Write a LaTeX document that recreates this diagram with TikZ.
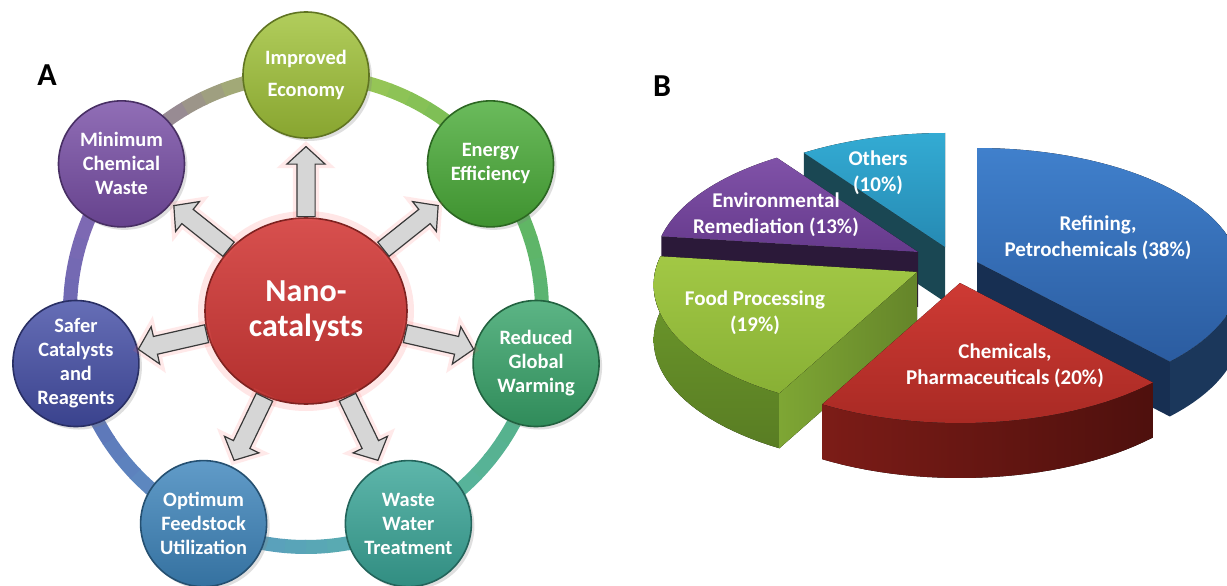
\documentclass[tikz,border=0pt]{standalone}
\usepackage{fontspec}
\setmainfont{Carlito}
\usetikzlibrary{shapes,shapes.arrows,shadows,calc}

\definecolor{col0}{HTML}{A0C238}
\definecolor{col1}{HTML}{4AAC38}
\definecolor{col2}{HTML}{38A46A}
\definecolor{col3}{HTML}{3AA698}
\definecolor{col4}{HTML}{3E85BC}
\definecolor{col5}{HTML}{444EA6}
\definecolor{col6}{HTML}{784EA6}
\definecolor{nanored}{HTML}{D23836}
\definecolor{othtop}{HTML}{33ABD3}
\definecolor{othlow}{HTML}{268AB3}
\definecolor{othcut}{HTML}{1A4753}
\definecolor{envtop}{HTML}{8052A8}
\definecolor{envlow}{HTML}{663A8C}
\definecolor{envcut}{HTML}{2B1939}
\definecolor{reftop}{HTML}{4080CC}
\definecolor{reflow}{HTML}{2B5CA0}
\definecolor{refside}{HTML}{1B375B}
\definecolor{refcut}{HTML}{172F52}
\definecolor{foodtop}{HTML}{A2C845}
\definecolor{foodlow}{HTML}{88B035}
\definecolor{foodside}{HTML}{6F9C2C}
\definecolor{foodcut}{HTML}{7EA634}
\definecolor{chemtop}{HTML}{CE3A34}
\definecolor{chemlow}{HTML}{A92A24}
\definecolor{chemside}{HTML}{7C1C17}
\definecolor{chemdark}{HTML}{4E100D}

\pgfmathdeclarefunction{rx}{1}{\pgfmathparse{(262-27*sin(#1))*cos(#1)}}
\pgfmathdeclarefunction{ry}{1}{\pgfmathparse{(127-13*sin(#1))*sin(#1)}}

\begin{document}
\begin{tikzpicture}[x=0.5pt,y=0.5pt,>=stealth]
        \tikzset{goal/.style={circle,minimum size=63pt,inner sep=1pt,align=center,text=white,
            font=\bfseries\fontsize{10.2}{12}\selectfont,draw=#1!60!black,line width=0.8pt,
            top color=#1!82!white,bottom color=#1!85!black,
            drop shadow={opacity=0.25,shadow xshift=1.5pt,shadow yshift=-1.5pt}}}
        \tikzstyle{push}=[single arrow,draw=gray!45!black,fill=gray!32,line width=0.6pt,
            minimum height=35pt,inner sep=4.25pt,single arrow head extend=5pt,single arrow tip angle=95,
            preaction={draw=red!60,line width=4pt,opacity=0.14}]
        \tikzstyle{pielabel}=[text=white,align=center,font=\bfseries\fontsize{10.5}{13}\selectfont]
        \tikzstyle{panel}=[font=\bfseries\fontsize{16}{16}\selectfont]
        \useasboundingbox (0,0) rectangle (1227,585);
        \fill[white] (0,0) rectangle (1227,585);

        % A: ring of goals
        \node[panel] (pa) at (47,510) {A};
        \coordinate (hub) at (306,274);
        \foreach \i in {0,...,6}{
            \pgfmathtruncatemacro\j{mod(\i+1,7)}
            \foreach \k in {0,...,9}{
                \pgfmathsetmacro\a{90-\i*360/7-\k*360/70}
                \pgfmathtruncatemacro\p{95-\k*10}
                \draw[line width=7pt,color=col\i!\p!col\j!85!white] ($(hub)+(\a:236)$) arc[start angle=\a,delta angle=-5.4,radius=236];
            }
        }
        \foreach \i/\txt in {0/{Improved\\[4pt]Economy},1/{Energy\\Efficiency},2/{Reduced\\Global\\Warming},
            3/{Waste\\Water\\Treatment},4/{Optimum\\Feedstock\\Utilization},5/{Safer\\Catalysts\\and\\Reagents},
            6/{Minimum\\Chemical\\Waste}}
            \node[goal=col\i] (g\i) at ($(hub)+({90-\i*360/7}:236)$) {\txt};
        \node[ellipse,minimum width=101pt,minimum height=93pt,align=center,text=white,
            font=\bfseries\fontsize{16}{17.5}\selectfont,draw=nanored!60!black,line width=0.8pt,
            top color=nanored!88!white,bottom color=nanored!85!black,
            preaction={draw=red!60,line width=7pt,opacity=0.16}] (nano) at (hub) {Nano-\\catalysts};
        \foreach \i in {0,...,6}
            \path (nano) -- node[push,sloped,allow upside down,pos=0,anchor=tail]{} (g\i);

        % B: exploded pie
        \node[panel] (pb) at (662,499) {B};
        % others
        \fill[othcut] (945,338) -- ({945+rx(126)},{338+ry(126)}) -- ++(0,-55) -- (945,283) -- cycle;
        \fill[top color=othtop,bottom color=othlow] (945,338)
            -- plot[domain=90:126,samples=30,variable=\t] ({945+rx(\t)},{338+ry(\t)}) -- cycle;
        % environmental remediation
        \fill[envcut] (918,333) -- ({918+rx(172.8)},{333+ry(172.8)}) -- ++(0,-55) -- (918,278) -- cycle;
        \fill[top color=envtop,bottom color=envlow] (918,333)
            -- plot[domain=126:172.8,samples=30,variable=\t] ({918+rx(\t)},{333+ry(\t)}) -- cycle;
        % refining
        \fill[refside] plot[domain=-46.8:0,samples=20,variable=\t] ({977+rx(\t)},{323+ry(\t)})
            -- plot[domain=0:46.8,samples=20,variable=\t] ({977+rx(-\t)},{268+ry(-\t)}) -- cycle;
        \fill[refcut] (977,323) -- ({977+rx(-46.8)},{323+ry(-46.8)}) -- ++(0,-55) -- (977,268) -- cycle;
        \fill[top color=reftop,bottom color=reflow] (977,323)
            -- plot[domain=-46.8:90,samples=50,variable=\t] ({977+rx(\t)},{323+ry(\t)}) -- cycle;
        % food processing
        \fill[top color=foodside,bottom color=foodside!80!black] plot[domain=172.8:241.2,samples=30,variable=\t] ({917+rx(\t)},{313+ry(\t)})
            -- plot[domain=-241.2:-172.8,samples=30,variable=\t] ({917+rx(-\t)},{258+ry(-\t)}) -- cycle;
        \fill[left color=foodcut,right color=foodcut!80!black] (917,313) -- ({917+rx(241.2)},{313+ry(241.2)}) -- ++(0,-55) -- (917,258) -- cycle;
        \fill[top color=foodtop,bottom color=foodlow] (917,313)
            -- plot[domain=172.8:241.2,samples=30,variable=\t] ({917+rx(\t)},{313+ry(\t)}) -- cycle;
        % chemicals
        \fill[left color=chemside,right color=chemdark] plot[domain=241.2:313.2,samples=30,variable=\t] ({960+rx(\t)},{302+ry(\t)})
            -- plot[domain=-313.2:-241.2,samples=30,variable=\t] ({960+rx(-\t)},{247+ry(-\t)}) -- cycle;
        \fill[top color=chemtop,bottom color=chemlow] (960,302)
            -- plot[domain=241.2:313.2,samples=30,variable=\t] ({960+rx(\t)},{302+ry(\t)}) -- cycle;

        \node[pielabel] (lothers) at (878,412) {Others\\(10\%)};
        \node[pielabel] (lenv) at (776,370) {Environmental\\Remediation (13\%)};
        \node[pielabel] (lfood) at (755,272) {Food Processing\\(19\%)};
        \node[pielabel] (lchem) at (1005,219) {Chemicals,\\Pharmaceuticals (20\%)};
        \node[pielabel] (lref) at (1098,347) {Refining,\\Petrochemicals (38\%)};
\end{tikzpicture}
\end{document}
